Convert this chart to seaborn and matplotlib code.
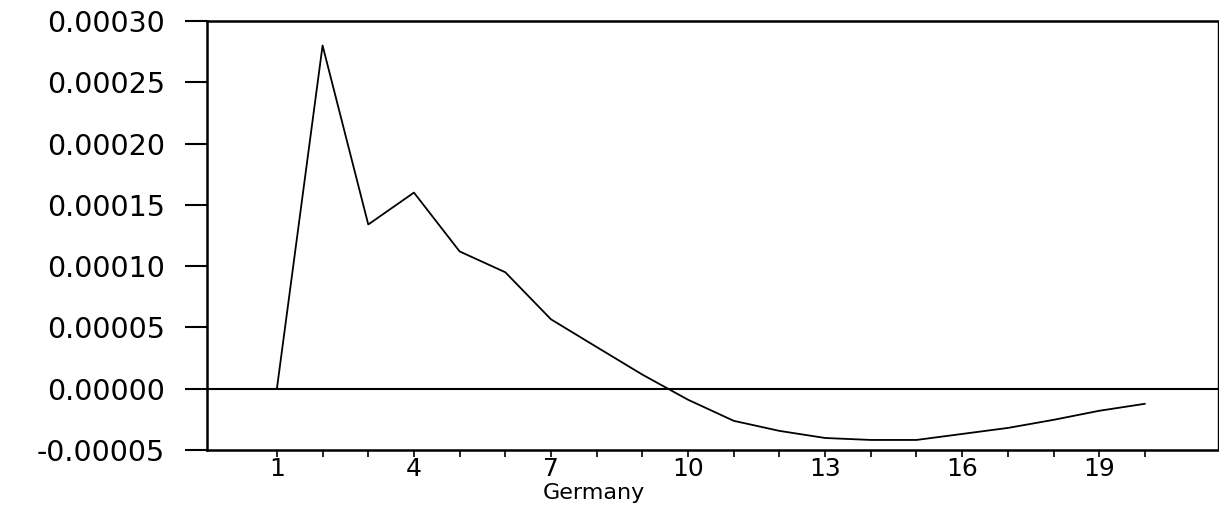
import matplotlib
matplotlib.use("Agg")
import matplotlib.pyplot as plt
import seaborn as sns
import numpy as np
import pandas as pd

periods = list(range(1, 21))
response = [0.0, 0.000280, 0.000134, 0.000160, 0.000112, 0.000095, 0.0000566,
            0.000034, 0.0000115, -0.000009, -0.0000262, -0.0000344, -0.0000402,
            -0.0000418, -0.0000418, -0.0000369, -0.000032, -0.0000254,
            -0.000018, -0.0000123]
ytick_vals = [-0.00005, 0.0, 0.00005, 0.00010, 0.00015, 0.00020, 0.00025, 0.00030]
xtick_labels = ["1", "4", "7", "10", "13", "16", "19"]
xlabel_text = "Germany"

sns.set_theme(style="white")
plt.rcParams['font.family'] = ['DejaVu Sans']
plt.rcParams['axes.unicode_minus'] = False

fig = plt.figure(figsize=(12.19, 5.13), dpi=100)
ax = fig.add_axes([207/1219, 1-450/513, (1218-207)/1219, (450-21)/513])

df = pd.DataFrame({"period": periods, "value": response})
sns.lineplot(data=df, x="period", y="value", ax=ax, color="black", linewidth=1.3)
ax.axhline(0, color="black", linewidth=1.5)

ax.set_xlim(-0.53, 21.6)
ax.set_ylim(-0.00005, 0.00030)

ax.set_yticks(ytick_vals)
ax.set_yticklabels([f"{v:.5f}" for v in ytick_vals], fontsize=20.5, color="black")
ax.set_xticks(periods)
ax.set_xticklabels([str(p) if str(p) in xtick_labels else "" for p in periods],
                   fontsize=18, color="black")

ax.tick_params(axis="y", direction="out", length=16, width=1.5, pad=14, color="black", left=True)
ax.tick_params(axis="x", direction="out", length=5, width=1.2, pad=0, color="black", bottom=True)

for side in ["left", "bottom", "top"]:
    ax.spines[side].set_color("black")
    ax.spines[side].set_linewidth(1.8)
ax.spines["right"].set_color("black")
ax.spines["right"].set_linewidth(1.0)

ax.set_ylabel("")
ax.set_xlabel(xlabel_text, fontsize=16, color="black")
ax.xaxis.set_label_coords(0.383, -0.078)

fig.savefig("out.png", dpi=100, facecolor="white")
